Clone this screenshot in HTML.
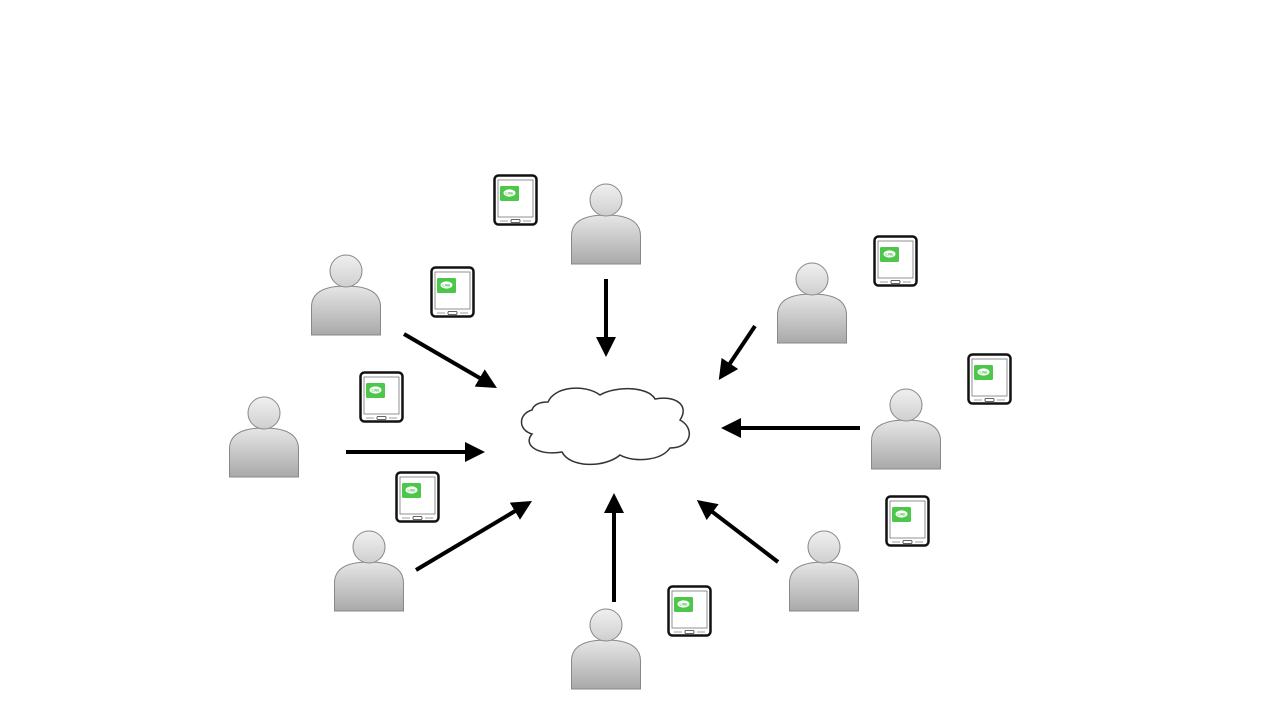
<!DOCTYPE html>
<html><head><meta charset="utf-8"><style>
html,body{margin:0;padding:0;background:#fff;}
svg{display:block;}
</style></head><body>
<svg width="1280" height="720" viewBox="0 0 1280 720" xmlns="http://www.w3.org/2000/svg">
<defs>
<linearGradient id="pg" x1="0" y1="0" x2="0" y2="1">
<stop offset="0" stop-color="#e6e6e6"/><stop offset="1" stop-color="#a9a9a9"/>
</linearGradient>
<linearGradient id="hg" x1="0" y1="0" x2="0" y2="1">
<stop offset="0" stop-color="#f0f0f0"/><stop offset="1" stop-color="#cfcfcf"/>
</linearGradient>
<g id="person">
<path d="M0.5,80 L0.5,52 C0.5,38 12,31 35,31 C58,31 69.5,38 69.5,52 L69.5,80 Z" fill="url(#pg)" stroke="#888" stroke-width="1"/>
<circle cx="35" cy="16" r="16" fill="url(#hg)" stroke="#888" stroke-width="1"/>
</g>
<g id="phone">
<rect x="1.5" y="1.5" width="42" height="49" rx="4" fill="#fff" stroke="#111" stroke-width="2.5"/>
<rect x="5" y="6" width="35" height="37" fill="#fff" stroke="#777" stroke-width="0.8"/>
<rect x="7" y="12" width="19" height="15" rx="1.5" fill="#4cc74a"/>
<ellipse cx="16.5" cy="19" rx="6" ry="3.6" fill="#fff"/>
<text x="16.5" y="20.5" font-family="Liberation Sans, sans-serif" font-size="3.5" font-weight="bold" fill="#4cc74a" text-anchor="middle">LINE</text>
<rect x="18" y="45.5" width="9" height="3" rx="1" fill="#fff" stroke="#333" stroke-width="0.8"/>
<line x1="7" y1="47" x2="15" y2="47" stroke="#888" stroke-width="0.8"/>
<line x1="30" y1="47" x2="38" y2="47" stroke="#888" stroke-width="0.8"/>
</g>
<marker id="ah" markerWidth="5" markerHeight="5" refX="4" refY="2.5" orient="auto" markerUnits="strokeWidth">
<path d="M0,0 L5,2.5 L0,5 Z" fill="#000"/>
</marker>
</defs>

<path d="M548,402 C555,386 585,384 600,395 C615,386 648,386 655,399 C675,395 690,405 680,420 C695,428 692,448 670,448 C660,462 632,462 620,455 C605,468 570,468 562,452 C540,456 522,446 532,434 C518,430 518,414 532,410 C534,404 540,402 548,402 Z" fill="#fff" stroke="#333" stroke-width="1.5"/>

<g stroke="#000" stroke-width="4" marker-end="url(#ah)">
<line x1="606" y1="279" x2="606" y2="353"/>
<line x1="404" y1="334" x2="493.5" y2="386"/>
<line x1="346" y1="452" x2="481" y2="452"/>
<line x1="416" y1="570" x2="528.6" y2="503"/>
<line x1="614" y1="602" x2="614" y2="497"/>
<line x1="778" y1="562" x2="700" y2="502.4"/>
<line x1="860" y1="428" x2="725" y2="428"/>
<line x1="755" y1="326" x2="721" y2="376.7"/>
</g>

<use href="#person" x="571" y="184"/>
<use href="#person" x="311" y="255"/>
<use href="#person" x="229" y="397"/>
<use href="#person" x="334" y="531"/>
<use href="#person" x="571" y="609"/>
<use href="#person" x="789" y="531"/>
<use href="#person" x="871" y="389"/>
<use href="#person" x="777" y="263"/>

<use href="#phone" x="493" y="174"/>
<use href="#phone" x="430" y="266"/>
<use href="#phone" x="359" y="371"/>
<use href="#phone" x="395" y="471"/>
<use href="#phone" x="667" y="585"/>
<use href="#phone" x="885" y="495"/>
<use href="#phone" x="967" y="353"/>
<use href="#phone" x="873" y="235"/>
</svg>
</body></html>
